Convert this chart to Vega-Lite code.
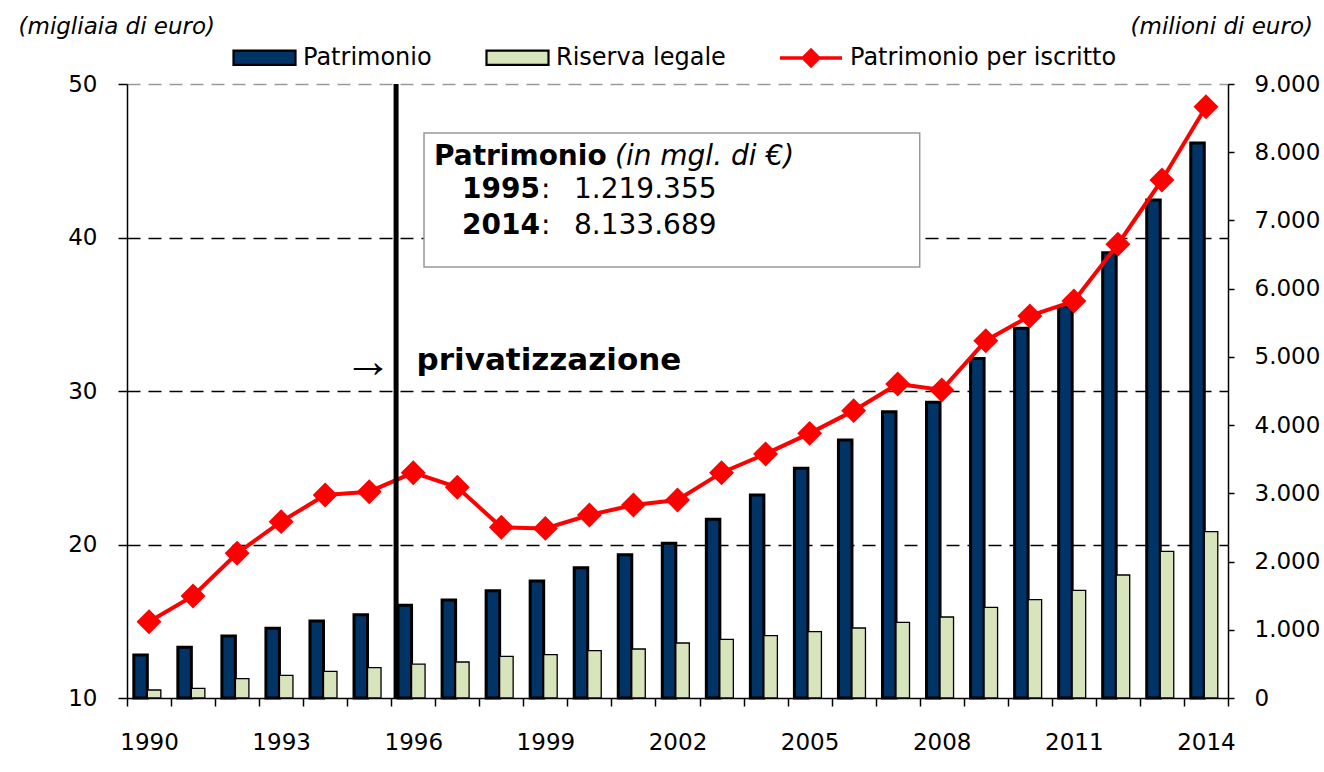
{
  "$schema": "https://vega.github.io/schema/vega-lite/v6.json",
  "width": 1101,
  "height": 614,
  "autosize": {"type": "none"},
  "padding": {"left": 127, "top": 84, "right": 96, "bottom": 74},
  "background": "white",
  "config": {
    "font": "DejaVu Sans",
    "view": {"stroke": null},
    "axis": {"labelFont": "DejaVu Sans", "labelFontSize": 23, "labelColor": "black", "tickColor": "black", "domainColor": "black", "titleColor": "black"},
    "legend": {"labelFont": "DejaVu Sans", "labelFontSize": 24, "labelColor": "black", "labelLimit": 600, "labelOffset": 6, "columnPadding": 50, "symbolSize": 3844, "direction": "horizontal", "orient": "none", "title": null}
  },
  "data": {
    "values": [
      {"anno": 1990, "Patrimonio": 630, "Riserva legale": 117, "perIscritto": 14.97},
      {"anno": 1991, "Patrimonio": 743, "Riserva legale": 142, "perIscritto": 16.65},
      {"anno": 1992, "Patrimonio": 909, "Riserva legale": 283, "perIscritto": 19.43},
      {"anno": 1993, "Patrimonio": 1022, "Riserva legale": 333, "perIscritto": 21.49},
      {"anno": 1994, "Patrimonio": 1129, "Riserva legale": 391, "perIscritto": 23.22},
      {"anno": 1995, "Patrimonio": 1219, "Riserva legale": 444, "perIscritto": 23.44},
      {"anno": 1996, "Patrimonio": 1360, "Riserva legale": 498, "perIscritto": 24.68},
      {"anno": 1997, "Patrimonio": 1436, "Riserva legale": 528, "perIscritto": 23.73},
      {"anno": 1998, "Patrimonio": 1573, "Riserva legale": 611, "perIscritto": 21.12},
      {"anno": 1999, "Patrimonio": 1715, "Riserva legale": 635, "perIscritto": 21.05},
      {"anno": 2000, "Patrimonio": 1910, "Riserva legale": 693, "perIscritto": 21.92},
      {"anno": 2001, "Patrimonio": 2100, "Riserva legale": 718, "perIscritto": 22.57},
      {"anno": 2002, "Patrimonio": 2267, "Riserva legale": 806, "perIscritto": 22.9},
      {"anno": 2003, "Patrimonio": 2620, "Riserva legale": 860, "perIscritto": 24.68},
      {"anno": 2004, "Patrimonio": 2976, "Riserva legale": 914, "perIscritto": 25.9},
      {"anno": 2005, "Patrimonio": 3369, "Riserva legale": 972, "perIscritto": 27.24},
      {"anno": 2006, "Patrimonio": 3782, "Riserva legale": 1026, "perIscritto": 28.72},
      {"anno": 2007, "Patrimonio": 4195, "Riserva legale": 1109, "perIscritto": 30.46},
      {"anno": 2008, "Patrimonio": 4336, "Riserva legale": 1187, "perIscritto": 30.07},
      {"anno": 2009, "Patrimonio": 4975, "Riserva legale": 1329, "perIscritto": 33.28},
      {"anno": 2010, "Patrimonio": 5420, "Riserva legale": 1441, "perIscritto": 34.89},
      {"anno": 2011, "Patrimonio": 5740, "Riserva legale": 1578, "perIscritto": 35.86},
      {"anno": 2012, "Patrimonio": 6525, "Riserva legale": 1803, "perIscritto": 39.56},
      {"anno": 2013, "Patrimonio": 7300, "Riserva legale": 2150, "perIscritto": 43.75},
      {"anno": 2014, "Patrimonio": 8134, "Riserva legale": 2438, "perIscritto": 48.52}
    ]
  },
  "encoding": {
    "x": {
      "field": "anno",
      "type": "ordinal",
      "scale": {"domain": [1990,1991,1992,1993,1994,1995,1996,1997,1998,1999,2000,2001,2002,2003,2004,2005,2006,2007,2008,2009,2010,2011,2012,2013,2014], "paddingInner": 0, "paddingOuter": 0},
      "axis": {"title": null, "labelAngle": 0, "labelExpr": "(datum.value - 1990) % 3 === 0 ? datum.label : ''", "tickBand": "extent", "tickSize": 8, "tickWidth": 1.5, "labelPadding": 25, "domainWidth": 1.5, "grid": false}
    }
  },
  "layer": [
    {
      "layer": [
        {
          "transform": [{"fold": ["Patrimonio", "Riserva legale"], "as": ["serie", "valore"]}],
          "mark": {"type": "bar", "stroke": "black"},
          "encoding": {
            "xOffset": {"field": "serie", "type": "nominal", "sort": ["Patrimonio", "Riserva legale"], "scale": {"paddingInner": 0, "paddingOuter": 0.63, "align": 0.4}},
            "y": {
              "field": "valore", "type": "quantitative",
              "scale": {"domain": [0, 9000], "nice": false},
              "axis": {"orient": "right", "values": [0,1000,2000,3000,4000,5000,6000,7000,8000,9000], "grid": false, "labelExpr": "replace(format(datum.value, ','), ',', '.')", "tickSize": 6, "tickWidth": 1.5, "labelPadding": 20, "domainWidth": 1.5, "title": "(milioni di euro)", "titleAngle": 0, "titleAlign": "left", "titleBaseline": "middle", "titleX": -98, "titleY": -58, "titleFont": "DejaVu Sans", "titleFontSize": 23, "titleFontStyle": "italic", "titleFontWeight": "normal"}
            },
            "fill": {
              "field": "serie", "type": "nominal",
              "scale": {"domain": ["Patrimonio", "Riserva legale"], "range": ["#003366", "#d8e4bc"]},
              "legend": {"orient": "none", "legendX": 105, "legendY": -59, "direction": "horizontal", "title": null, "symbolType": "M-1,-0.23H1V0.23H-1Z", "symbolStrokeColor": "black", "symbolStrokeWidth": 2.2}
            },
            "strokeWidth": {"condition": {"test": "datum.serie === 'Patrimonio'", "value": 3}, "value": 1.3}
          }
        }
      ]
    },
    {
      "layer": [
        {
          "mark": {"type": "line", "strokeWidth": 4, "color": "#ff0000"},
          "encoding": {
            "y": {
              "field": "perIscritto", "type": "quantitative",
              "scale": {"domain": [10, 50], "nice": false},
              "axis": {"orient": "left", "values": [10,20,30,40,50], "grid": true, "gridDash": [13, 8], "gridWidth": 1.3,
                "gridColor": {"condition": [{"test": "datum.value === 50", "value": "#9a9a9a"}, {"test": "datum.value === 10", "value": "transparent"}], "value": "black"},
                "tickSize": 9, "tickWidth": 1.5, "labelPadding": 21, "domainWidth": 1.5,
                "title": "(migliaia di euro)", "titleAngle": 0, "titleAlign": "left", "titleBaseline": "middle", "titleX": -109, "titleY": -58, "titleFont": "DejaVu Sans", "titleFontSize": 23, "titleFontStyle": "italic", "titleFontWeight": "normal"}
            }
          }
        },
        {
          "mark": {"type": "point", "shape": "diamond", "size": 400, "filled": true, "fill": "#ff0000", "strokeWidth": 3.5, "opacity": 1},
          "encoding": {
            "y": {"field": "perIscritto", "type": "quantitative"},
            "stroke": {
              "datum": "Patrimonio per iscritto", "type": "nominal",
              "scale": {"domain": ["Patrimonio per iscritto"], "range": ["#ff0000"]},
              "legend": {"orient": "none", "legendX": 651, "legendY": -59, "direction": "horizontal", "title": null, "symbolType": "M-1,0H1M-0.25,0L0,-0.25L0.25,0L0,0.25Z", "symbolFillColor": "#ff0000", "symbolStrokeWidth": 3.5}
            }
          }
        },
        {
          "data": {"values": [{}]},
          "mark": {"type": "rule", "strokeWidth": 5, "color": "black"},
          "encoding": {"x": {"datum": 1996, "type": "ordinal", "bandPosition": 0.11}}
        },
        {
          "data": {"values": [{}]},
          "mark": {"type": "rect", "fill": "white", "stroke": "#999999", "strokeWidth": 1.5},
          "encoding": {
            "x": {"datum": 1996, "type": "ordinal", "bandPosition": 0.744},
            "x2": {"datum": 2008, "bandPosition": 0},
            "y": {"datum": 46.81, "type": "quantitative"},
            "y2": {"datum": 38.08}
          }
        },
        {
          "data": {"values": [{}]},
          "mark": {"type": "text", "text": "Patrimonio", "font": "DejaVu Sans", "fontSize": 28, "fontWeight": "bold", "align": "left", "baseline": "alphabetic", "color": "black"},
          "encoding": {"x": {"datum": 1996, "type": "ordinal", "bandPosition": 0.971}, "y": {"datum": 44.72, "type": "quantitative"}}
        },
        {
          "data": {"values": [{}]},
          "mark": {"type": "text", "text": "(in mgl. di €)", "font": "DejaVu Sans", "fontSize": 28, "fontStyle": "italic", "align": "left", "baseline": "alphabetic", "color": "black"},
          "encoding": {"x": {"datum": 2001, "type": "ordinal", "bandPosition": 0.08}, "y": {"datum": 44.72, "type": "quantitative"}}
        },
        {
          "data": {"values": [{"t": "1995", "v": 42.55}, {"t": "2014", "v": 40.21}]},
          "mark": {"type": "text", "font": "DejaVu Sans", "fontSize": 28, "fontWeight": "bold", "align": "left", "baseline": "alphabetic", "color": "black"},
          "encoding": {"x": {"datum": 1997, "type": "ordinal", "bandPosition": 0.607}, "y": {"field": "v", "type": "quantitative"}, "text": {"field": "t"}}
        },
        {
          "data": {"values": [{"t": ":", "v": 42.55}, {"t": ":", "v": 40.21}]},
          "mark": {"type": "text", "font": "DejaVu Sans", "fontSize": 28, "align": "left", "baseline": "alphabetic", "color": "black"},
          "encoding": {"x": {"datum": 1999, "type": "ordinal", "bandPosition": 0.4}, "y": {"field": "v", "type": "quantitative"}, "text": {"field": "t"}}
        },
        {
          "data": {"values": [{"t": "1.219.355", "v": 42.55}, {"t": "8.133.689", "v": 40.21}]},
          "mark": {"type": "text", "font": "DejaVu Sans", "fontSize": 28, "align": "left", "baseline": "alphabetic", "color": "black"},
          "encoding": {"x": {"datum": 2000, "type": "ordinal", "bandPosition": 0.15}, "y": {"field": "v", "type": "quantitative"}, "text": {"field": "t"}}
        },
        {
          "data": {"values": [{}]},
          "mark": {"type": "text", "text": "privatizzazione", "font": "DejaVu Sans", "fontSize": 31, "fontWeight": "bold", "align": "left", "baseline": "alphabetic", "color": "black"},
          "encoding": {"x": {"datum": 1996, "type": "ordinal", "bandPosition": 0.576}, "y": {"datum": 31.37, "type": "quantitative"}}
        },
        {
          "data": {"values": [{}]},
          "mark": {"type": "text", "text": "→", "font": "Liberation Serif", "fontSize": 48, "align": "center", "baseline": "middle", "color": "black"},
          "encoding": {"x": {"datum": 1995, "type": "ordinal", "bandPosition": 0.47}, "y": {"datum": 31.84, "type": "quantitative"}}
        }
      ]
    }
  ],
  "resolve": {"scale": {"y": "independent"}}
}
